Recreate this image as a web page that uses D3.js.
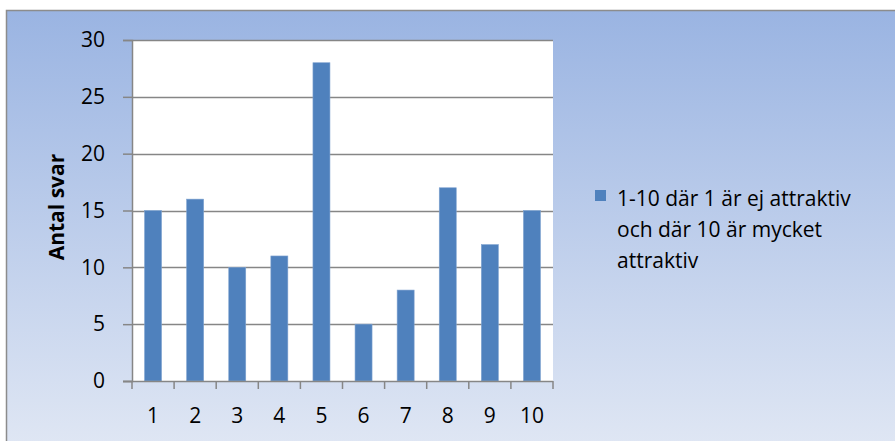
<!DOCTYPE html>
<html>
<head>
<meta charset="utf-8">
<script src="https://cdn.jsdelivr.net/npm/d3@7"></script>
<style>
  body { margin: 0; background: #fff; }
  svg text { font-family: "Open Sans", Lato, sans-serif; fill: #000; }
</style>
</head>
<body>
<svg id="chart" width="895" height="441"></svg>
<script>
// data
var categories = ["1", "2", "3", "4", "5", "6", "7", "8", "9", "10"];
var values = [15, 16, 10, 11, 28, 5, 8, 17, 12, 15];
var yTicks = [0, 5, 10, 15, 20, 25, 30];
var seriesName = ["1-10 där 1 är ej attraktiv", "och där 10 är mycket", "attraktiv"];
var yTitle = "Antal svar";

var svg = d3.select("#chart");
var barColor = "#4f81bd";
var gridColor = "#868686";

var defs = svg.append("defs");
var grad = defs.append("linearGradient").attr("id", "bg")
  .attr("x1", 0).attr("y1", 0).attr("x2", 0).attr("y2", 1);
grad.append("stop").attr("offset", "0%").attr("stop-color", "#9ab4e2");
grad.append("stop").attr("offset", "100%").attr("stop-color", "#e0e7f4");

// chart area with border
svg.append("rect")
  .attr("x", 6.5).attr("y", 10.5)
  .attr("width", 900).attr("height", 440)
  .attr("fill", "url(#bg)")
  .attr("stroke", "#8c8c8c").attr("stroke-width", 1.5);

var plot = {left: 132, top: 40, right: 553, bottom: 381};

var xb = d3.scaleBand().domain(categories).range([plot.left, plot.right]);
var y = d3.scaleLinear().domain([0, 30]).range([plot.bottom, plot.top]);

svg.append("rect")
  .attr("x", plot.left).attr("y", plot.top)
  .attr("width", plot.right - plot.left).attr("height", plot.bottom - plot.top)
  .attr("fill", "#fff");

// gridlines
svg.append("g").attr("class", "grid").selectAll("line")
  .data(yTicks.filter(function(d){ return d > 0; }))
  .enter().append("line")
  .attr("x1", plot.left).attr("x2", plot.right)
  .attr("y1", function(d){ return Math.round(y(d)) + 0.5; })
  .attr("y2", function(d){ return Math.round(y(d)) + 0.5; })
  .attr("stroke", gridColor).attr("stroke-width", 1.3);

// bars
svg.append("g").selectAll("rect")
  .data(values)
  .enter().append("rect")
  .attr("x", function(d, i){ return xb(categories[i]) + xb.bandwidth() / 2 - 8.5; })
  .attr("width", 17)
  .attr("y", function(d){ return y(d); })
  .attr("height", function(d){ return plot.bottom - y(d); })
  .attr("fill", barColor)
  .attr("stroke", "#7fa3d0").attr("stroke-width", 0.6);

// y axis
var yAxis = svg.append("g")
  .attr("transform", "translate(" + plot.left + ",0)")
  .call(d3.axisLeft(y).tickValues(yTicks).tickSize(9).tickPadding(18));
yAxis.selectAll("text").style("font-size", "21px");
yAxis.selectAll(".domain, .tick line").attr("stroke", gridColor).attr("stroke-width", 1.5);

// x axis with ticks between categories
var xAxis = svg.append("g")
  .attr("transform", "translate(0," + plot.bottom + ")");
xAxis.append("line")
  .attr("x1", plot.left - 9).attr("x2", plot.right)
  .attr("y1", 0.5).attr("y2", 0.5)
  .attr("stroke", gridColor).attr("stroke-width", 1.5);
xAxis.selectAll(".tk")
  .data(categories.concat(["end"]))
  .enter().append("line")
  .attr("class", "tk")
  .attr("x1", function(d, i){ return i < categories.length ? xb(d) : plot.right; })
  .attr("x2", function(d, i){ return i < categories.length ? xb(d) : plot.right; })
  .attr("y1", 0).attr("y2", 8)
  .attr("stroke", gridColor).attr("stroke-width", 1.5);
xAxis.selectAll("text")
  .data(categories)
  .enter().append("text")
  .attr("x", function(d){ return xb(d) + xb.bandwidth() / 2; })
  .attr("y", 42)
  .attr("text-anchor", "middle")
  .style("font-size", "21px")
  .text(function(d){ return d; });

// y title
svg.append("text")
  .attr("transform", "translate(64,207) rotate(-90)")
  .attr("text-anchor", "middle")
  .style("font-size", "21px")
  .style("font-weight", "bold")
  .text(yTitle);

// legend
var leg = svg.append("g").attr("transform", "translate(595,190)");
leg.append("rect").attr("width", 11).attr("height", 11).attr("fill", barColor);
leg.selectAll("text")
  .data(seriesName)
  .enter().append("text")
  .attr("x", 22)
  .attr("y", function(d, i){ return 16 + i * 31; })
  .style("font-size", "21px")
  .text(function(d){ return d; });
</script>
</body>
</html>
